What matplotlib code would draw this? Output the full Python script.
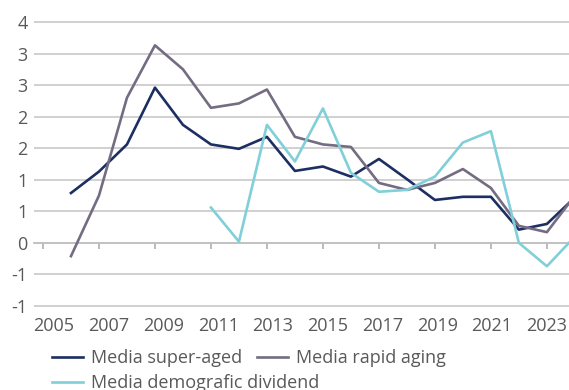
import numpy as np
import matplotlib
matplotlib.use("Agg")
import matplotlib.pyplot as plt
from matplotlib.ticker import FuncFormatter, MultipleLocator
from matplotlib.transforms import ScaledTranslation

plt.rcParams['font.family'] = ['Open Sans', 'DejaVu Sans']

# yearly averages per country group
years = [2006, 2007, 2008, 2009, 2010, 2011, 2012, 2013, 2014, 2015,
         2016, 2017, 2018, 2019, 2020, 2021, 2022, 2023, 2024]
super_aged = [0.79, 1.13, 1.56, 2.46, 1.87, 1.56, 1.49, 1.68, 1.14, 1.21,
              1.05, 1.33, 1.01, 0.68, 0.73, 0.73, 0.21, 0.30, 0.72]
rapid_aging = [-0.21, 0.75, 2.30, 3.13, 2.75, 2.14, 2.21, 2.43, 1.68, 1.56,
               1.52, 0.95, 0.84, 0.95, 1.17, 0.87, 0.27, 0.17, 0.75]
dividend_years = [2011, 2012, 2013, 2014, 2015, 2016, 2017, 2018, 2019,
                  2020, 2021, 2022, 2023, 2024]
dividend = [0.56, 0.02, 1.87, 1.29, 2.13, 1.11, 0.81, 0.84, 1.05, 1.59,
            1.77, 0.00, -0.37, 0.10]

label_years = list(range(2005, 2024, 2))

navy = '#1d2f62'
grey = '#736c83'
cyan = '#80cfd9'
text_col = '#595959'
grid_col = '#c4c4c4'
fs = 13

fig = plt.figure(figsize=(5.69, 3.90), dpi=100)
ax = fig.add_axes([0.0598, 0.2073, 0.9402, 0.7444])

ax.plot(years, super_aged, color=navy, lw=1.9, label='Media super-aged', zorder=3)
ax.plot(years, rapid_aging, color=grey, lw=1.9, label='Media rapid aging', zorder=3)
ax.plot(dividend_years, dividend, color=cyan, lw=1.9,
        label='Media demografic dividend', zorder=3)

ax.set_ylim(-1.05, 3.55)
ax.set_xlim(2004.68, 2023.79)
ax.yaxis.set_major_locator(MultipleLocator(0.5))


def half_up(v, pos):
    r = int(np.floor(abs(v) + 0.5))
    return '-%d' % r if v < 0 and r else '%d' % r


ax.yaxis.set_major_formatter(FuncFormatter(half_up))
ax.set_xticks(label_years)
ax.set_xticklabels([str(y) for y in label_years])

for s in ax.spines.values():
    s.set_visible(False)
ax.grid(axis='y', color=grid_col, lw=1.1, zorder=0)
ax.tick_params(axis='y', length=0, pad=4.5, labelsize=fs, labelcolor=text_col)
ax.tick_params(axis='x', length=0, pad=6, labelsize=fs, labelcolor=text_col)
# year labels sit a little right of their ticks, less so towards the right edge
n = len(label_years)
for i, lab in enumerate(ax.get_xticklabels()):
    dx = 11 * (1 - i / (n - 1)) / 100
    lab.set_transform(lab.get_transform() + ScaledTranslation(dx, 0, fig.dpi_scale_trans))

# zero line with tick marks hanging below it
zero = ax.secondary_xaxis(0, transform=ax.transData)
zero.spines['bottom'].set_color('#a9a9a9')
zero.spines['bottom'].set_linewidth(1.1)
zero.set_xticks(label_years)
zero.tick_params(axis='x', direction='out', length=4, width=1.1, color='#a9a9a9',
                 labelbottom=False)

h, l = ax.get_legend_handles_labels()
leg_kw = dict(loc='upper left', frameon=False, fontsize=fs, labelcolor=text_col,
              handlelength=1.7, handletextpad=0.45, borderpad=0, borderaxespad=0)
fig.legend(h[:2], l[:2], ncol=2, columnspacing=0.85,
           bbox_to_anchor=(52 / 569, 1 - 349 / 390), **leg_kw)
fig.legend(h[2:], l[2:], bbox_to_anchor=(52 / 569, 1 - 374 / 390), **leg_kw)

fig.savefig('out.png', dpi=100)
